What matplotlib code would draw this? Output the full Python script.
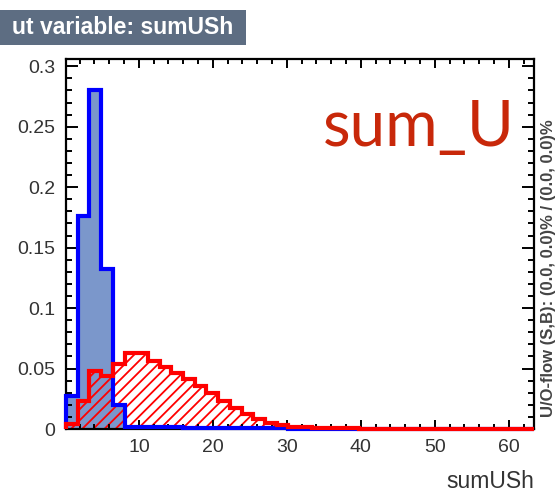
import numpy as np
import matplotlib
matplotlib.use("Agg")
import matplotlib.pyplot as plt
from matplotlib.ticker import MultipleLocator
from matplotlib.patches import Rectangle

# histogram range / binning of sumUSh
x_lo, x_hi, nbins = 0.15, 63.4, 40

# signal (blue, filled)
sig = [0.027, 0.176, 0.280, 0.132, 0.020, 0.002, 0.002, 0.0015, 0.0015, 0.0015,
       0.001, 0.001, 0.001, 0.001, 0.001, 0.001, 0.001, 0.0008, 0.0005, 0.0003,
       0, 0, 0, 0, 0, 0, 0, 0, 0, 0,
       0, 0, 0, 0, 0, 0, 0, 0, 0, 0]
# background (red, hatched)
bkg = [0.004, 0.023, 0.048, 0.044, 0.054, 0.063, 0.063, 0.056, 0.051, 0.046,
       0.041, 0.0355, 0.030, 0.023, 0.0176, 0.012, 0.008, 0.005, 0.003, 0.002,
       0.0015, 0.001, 0.001, 0.0008, 0.0005, 0.0004, 0.0003, 0.0003, 0.0002, 0.0002,
       0.0002, 0.0002, 0.0002, 0.0002, 0.0002, 0.0002, 0.0002, 0.0002, 0.0002, 0.0002]

yticks = [0, 0.05, 0.1, 0.15, 0.2, 0.25, 0.3]
ylabels = ["0", "0.05", "0.1", "0.15", "0.2", "0.25", "0.3"]
xticks = [10, 20, 30, 40, 50, 60]

edges = np.linspace(x_lo, x_hi, nbins + 1)

plt.rcParams['font.family'] = ['Liberation Sans', 'DejaVu Sans']
plt.rcParams['hatch.linewidth'] = 1.3

fig = plt.figure(figsize=(5.59, 4.92), dpi=100)
ax = fig.add_axes([66/559, 1 - 429/492, (534-66)/559, (429-59)/492])

ax.stairs(sig, edges, fill=True, color='#7b97cb', lw=0)
ax.stairs(bkg, edges, fill=True, facecolor='none', edgecolor='red', hatch='///', lw=0)
ax.stairs(sig, edges, baseline=0, color='#0000ff', lw=3, zorder=3, clip_on=False)
ax.stairs(bkg, edges, baseline=0, color='#ff0000', lw=3, zorder=3, clip_on=False)

ax.set_xlim(x_lo, x_hi)
ax.set_ylim(0, 0.306)
ax.set_xticks(xticks)
ax.set_yticks(yticks)
ax.set_yticklabels(ylabels)
ax.xaxis.set_minor_locator(MultipleLocator(2))
ax.yaxis.set_minor_locator(MultipleLocator(0.01))
ax.tick_params(which='both', direction='in', top=True, right=True, width=1.4, colors='black',
               labelcolor='#333333', labelsize=14)
ax.tick_params(axis='y', which='major', length=8.6, pad=8)
ax.tick_params(axis='y', which='minor', length=4.3)
ax.tick_params(axis='x', which='major', length=6.5, pad=7)
ax.tick_params(axis='x', which='minor', length=3.6)
for s in ax.spines.values():
    s.set_linewidth(1.6)

fig.text(534/559, 1 - 488/492, "sumUSh", ha='right', va='baseline', fontsize=16.5, color='#333333')

# overflow note
fig.text(548/559, 1 - 268/492, "U/O-flow (S,B): (0.0, 0.0)% / (0.0, 0.0)%", rotation=90,
         ha='center', va='center', fontsize=12, color='#444444', fontweight='bold')

# title banner (left part cut off in the original)
fig.patches.append(Rectangle((0, 1 - 45/492), 246/559, 35/492, transform=fig.transFigure,
                             facecolor='#5d6d82', edgecolor='none'))
fig.text(12/559, 1 - 28/492, "ut variable: sumUSh", ha='left', va='center',
         fontsize=16.5, color='white', fontweight='bold')

fig.text(323/559, 1 - 146/492, "sum_U", ha='left', va='baseline', fontsize=46,
         color='#c8280a', family=['Lato', 'DejaVu Sans'])

fig.savefig("out.png", dpi=100)
